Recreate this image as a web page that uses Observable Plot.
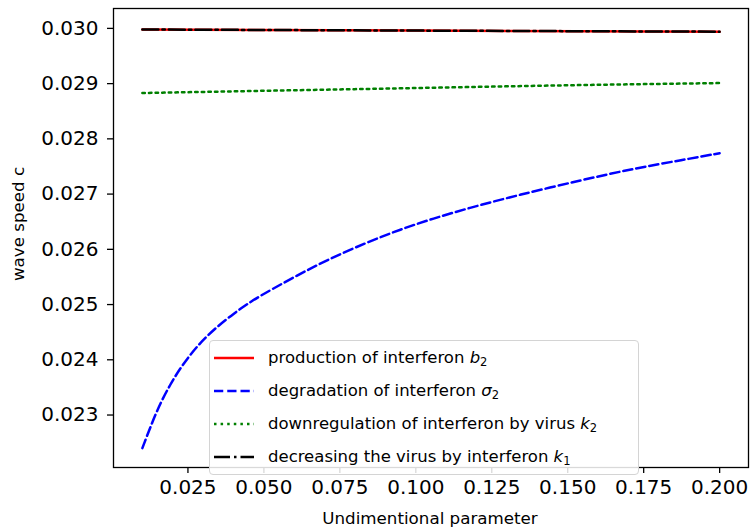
<!DOCTYPE html>
<html><head><meta charset="utf-8">
<script src="https://cdn.jsdelivr.net/npm/d3@7"></script>
<script src="https://cdn.jsdelivr.net/npm/@observablehq/plot@0.6"></script>
<style>
body{margin:0;background:#fff;font-family:"DejaVu Sans",sans-serif;}
#wrap{position:relative;width:750px;height:528px;}
#legend{position:absolute;left:209px;top:340px;width:430px;height:135px;border:1px solid #d4d4d4;border-radius:4px;background:rgba(255,255,255,0.85);box-sizing:border-box;}
.row{position:absolute;left:0;height:24px;display:flex;align-items:center;font-size:16.5px;color:#000;white-space:nowrap;}
.row svg{margin-left:4px;margin-right:14px;}
.row sub{font-size:11.5px;vertical-align:-3px;font-style:normal;}
.alabel{position:absolute;font-size:16.7px;color:#000;white-space:nowrap;line-height:1;}
#ylab{left:18px;top:224px;transform:translate(-50%,-50%) rotate(-90deg);}
#xlab{left:430px;top:518px;transform:translate(-50%,-50%);}
</style></head><body><div id="wrap"></div>
<script>
// Data
const seriesNames = [
  "production of interferon",
  "degradation of interferon",
  "downregulation of interferon by virus",
  "decreasing the virus by interferon"
];
const seriesSymbols = [["b","2"],["σ","2"],["k","2"],["k","1"]];
const xLabel = "Undimentional parameter";
const yLabel = "wave speed c";

const redX = [0.01, 0.10, 0.20];
const redY = [0.02998, 0.02996, 0.02994];

const blueX = [0.0100, 0.0149, 0.0193, 0.0231, 0.0280, 0.0335, 0.0401, 0.0456, 0.0498, 0.0610, 0.0709, 0.0841, 0.0949, 0.1058, 0.1170, 0.1334, 0.1551, 0.1716, 0.1880, 0.2000];
const blueY = [0.02240, 0.02311, 0.02357, 0.02390, 0.02425, 0.02455, 0.02484, 0.02505, 0.02519, 0.02553, 0.02581, 0.02613, 0.02636, 0.02656, 0.02674, 0.02698, 0.02726, 0.02746, 0.02762, 0.02774];

const greenX = [0.01, 0.05, 0.10, 0.15, 0.20];
const greenY = [0.02883, 0.02887, 0.02892, 0.02897, 0.02901];

const blackX = [0.01, 0.10, 0.20];
const blackY = [0.02998, 0.02996, 0.02994];

const xTicks = [0.025, 0.050, 0.075, 0.100, 0.125, 0.150, 0.175, 0.200];
const yTicks = [0.023, 0.024, 0.025, 0.026, 0.027, 0.028, 0.029, 0.030];

const toRows = (xs, ys) => xs.map((x, i) => ({x, y: ys[i]}));
const red = toRows(redX, redY);
const blue = toRows(blueX, blueY);
const green = toRows(greenX, greenY);
const black = toRows(blackX, blackY);

const styles = [
  {stroke: "#ff0000", dash: null},
  {stroke: "#0000ff", dash: "9.25,4"},
  {stroke: "#008000", dash: "2.5,4.1"},
  {stroke: "#000000", dash: "16,4,2.5,4"}
];

const chart = Plot.plot({
  width: 750,
  height: 528,
  marginLeft: 113,
  marginRight: 2,
  marginTop: 8,
  marginBottom: 61,
  style: {fontFamily: "DejaVu Sans, sans-serif", background: "#fff", color: "#000"},
  x: {domain: [0.0005, 0.2095]},
  y: {domain: [0.02205, 0.03036]},
  marks: [
    Plot.frame({stroke: "#000", strokeWidth: 1.3}),
    Plot.axisX({ticks: xTicks, tickFormat: d3.format(".3f"), tickSize: 6, tickPadding: 6, fontSize: 20, strokeWidth: 1.3, label: null}),
    Plot.axisY({ticks: yTicks, tickFormat: d3.format(".3f"), tickSize: 6, tickPadding: 9, fontSize: 20, strokeWidth: 1.3, label: null}),
    Plot.line(red, {x: "x", y: "y", stroke: styles[0].stroke, strokeWidth: 2.5}),
    Plot.line(blue, {x: "x", y: "y", stroke: styles[1].stroke, strokeWidth: 2.5, strokeDasharray: styles[1].dash, curve: "basis"}),
    Plot.line(green, {x: "x", y: "y", stroke: styles[2].stroke, strokeWidth: 2.5, strokeDasharray: styles[2].dash, curve: "monotone-x"}),
    Plot.line(black, {x: "x", y: "y", stroke: styles[3].stroke, strokeWidth: 2.5, strokeDasharray: styles[3].dash})
  ]
});

const wrap = document.getElementById("wrap");
wrap.appendChild(chart);

const yl = document.createElement("div");
yl.className = "alabel"; yl.id = "ylab"; yl.textContent = yLabel;
wrap.appendChild(yl);
const xl = document.createElement("div");
xl.className = "alabel"; xl.id = "xlab"; xl.textContent = xLabel;
wrap.appendChild(xl);

const legend = document.createElement("div");
legend.id = "legend";
const rowTops = [5, 38, 71, 104];
seriesNames.forEach((name, i) => {
  const row = document.createElement("div");
  row.className = "row";
  row.style.top = rowTops[i] + "px";
  const s = styles[i];
  row.innerHTML = `<svg width="40" height="10"><line x1="0" y1="5" x2="40" y2="5" stroke="${s.stroke}" stroke-width="2.5" ${s.dash ? `stroke-dasharray="${s.dash}"` : ""}/></svg><span>${name} <i>${seriesSymbols[i][0]}</i><sub>${seriesSymbols[i][1]}</sub></span>`;
  legend.appendChild(row);
});
wrap.appendChild(legend);
</script>
</body></html>
